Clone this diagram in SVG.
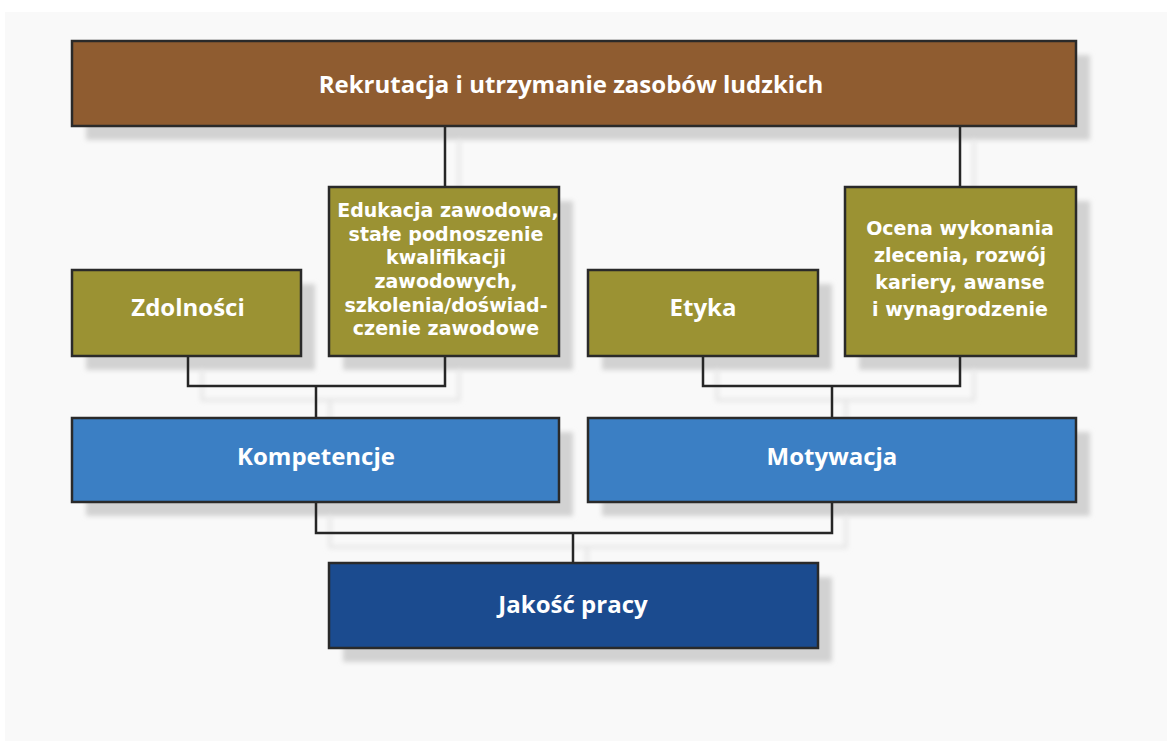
<svg xmlns="http://www.w3.org/2000/svg" width="1167" height="741" viewBox="0 0 1167 741">
<defs>
<filter id="blur" x="-10%" y="-10%" width="120%" height="130%"><feGaussianBlur stdDeviation="2.5"/></filter>
<style>
.bg{fill:#f9f9f9}
.sh{fill:#d2d2d2;filter:url(#blur)}
.shl{fill:none;stroke:#e4e4e4;stroke-width:3;filter:url(#blur)}
.box{stroke:#2a2a2a;stroke-width:2.5}
.brown{fill:#8f5c30}
.olive{fill:#9b9233}
.blue{fill:#3b7fc4}
.dblue{fill:#1b4b8f}
.t{fill:#ffffff;font-weight:bold;text-anchor:middle}
.big{font-family:"Open Sans","DejaVu Sans",sans-serif;font-size:24px}
.sm{font-family:"DejaVu Sans","Open Sans",sans-serif;font-size:19px}
.c{fill:none;stroke:#262626;stroke-width:2.5}
</style>
</defs>
<rect x="0" y="0" width="1167" height="741" fill="#ffffff"/>
<rect class="bg" x="5" y="12" width="1162" height="729"/>
<g id="shadows">
<rect class="sh" x="86" y="55" width="1004" height="85"/>
<rect class="sh" x="343" y="201" width="230" height="169"/>
<rect class="sh" x="86" y="284" width="229" height="86"/>
<rect class="sh" x="602" y="284" width="230" height="86"/>
<rect class="sh" x="859" y="201" width="231" height="169"/>
<rect class="sh" x="86" y="432" width="487" height="84"/>
<rect class="sh" x="602" y="432" width="488" height="84"/>
<rect class="sh" x="343" y="577" width="489" height="85"/>
<path class="shl" d="M202 370 V400 H459 V370 M330 400 V432 M717 370 V400 H974 V370 M846 400 V432 M330 516 V547 H846 V516 M587 547 V577 M459 140 V201 M974 140 V201"/>
</g>
<g id="connectors">
<path class="c" d="M445 126 V187"/>
<path class="c" d="M960 126 V187"/>
<path class="c" d="M188 356 V386 H445 V356"/>
<path class="c" d="M316 386 V418"/>
<path class="c" d="M703 356 V386 H960 V356"/>
<path class="c" d="M832 386 V418"/>
<path class="c" d="M316 502 V533 H832 V502"/>
<path class="c" d="M573 533 V563"/>
</g>
<g id="rekrutacja">
<rect class="box brown" x="72" y="41" width="1004" height="85"/>
<text class="t big" x="571" y="93">Rekrutacja i utrzymanie zasobów ludzkich</text>
</g>
<g id="zdolnosci">
<rect class="box olive" x="72" y="270" width="229" height="86"/>
<text class="t big" x="188" y="316">Zdolności</text>
</g>
<g id="edukacja">
<rect class="box olive" x="329" y="187" width="230" height="169"/>
<text class="t sm" x="448" y="217">Edukacja zawodowa,</text>
<text class="t sm" x="446" y="241">stałe podnoszenie</text>
<text class="t sm" x="446" y="264">kwalifikacji</text>
<text class="t sm" x="446" y="288">zawodowych,</text>
<text class="t sm" x="446" y="312">szkolenia/doświad-</text>
<text class="t sm" x="446" y="335">czenie zawodowe</text>
</g>
<g id="etyka">
<rect class="box olive" x="588" y="270" width="230" height="86"/>
<text class="t big" x="703" y="316">Etyka</text>
</g>
<g id="ocena">
<rect class="box olive" x="845" y="187" width="231" height="169"/>
<text class="t sm" x="960" y="235">Ocena wykonania</text>
<text class="t sm" x="960" y="262">zlecenia, rozwój</text>
<text class="t sm" x="960" y="289">kariery, awanse</text>
<text class="t sm" x="960" y="316">i wynagrodzenie</text>
</g>
<g id="kompetencje">
<rect class="box blue" x="72" y="418" width="487" height="84"/>
<text class="t big" x="316" y="465">Kompetencje</text>
</g>
<g id="motywacja">
<rect class="box blue" x="588" y="418" width="488" height="84"/>
<text class="t big" x="832" y="465">Motywacja</text>
</g>
<g id="jakosc">
<rect class="box dblue" x="329" y="563" width="489" height="85"/>
<text class="t big" x="573" y="613">Jakość pracy</text>
</g>
</svg>
